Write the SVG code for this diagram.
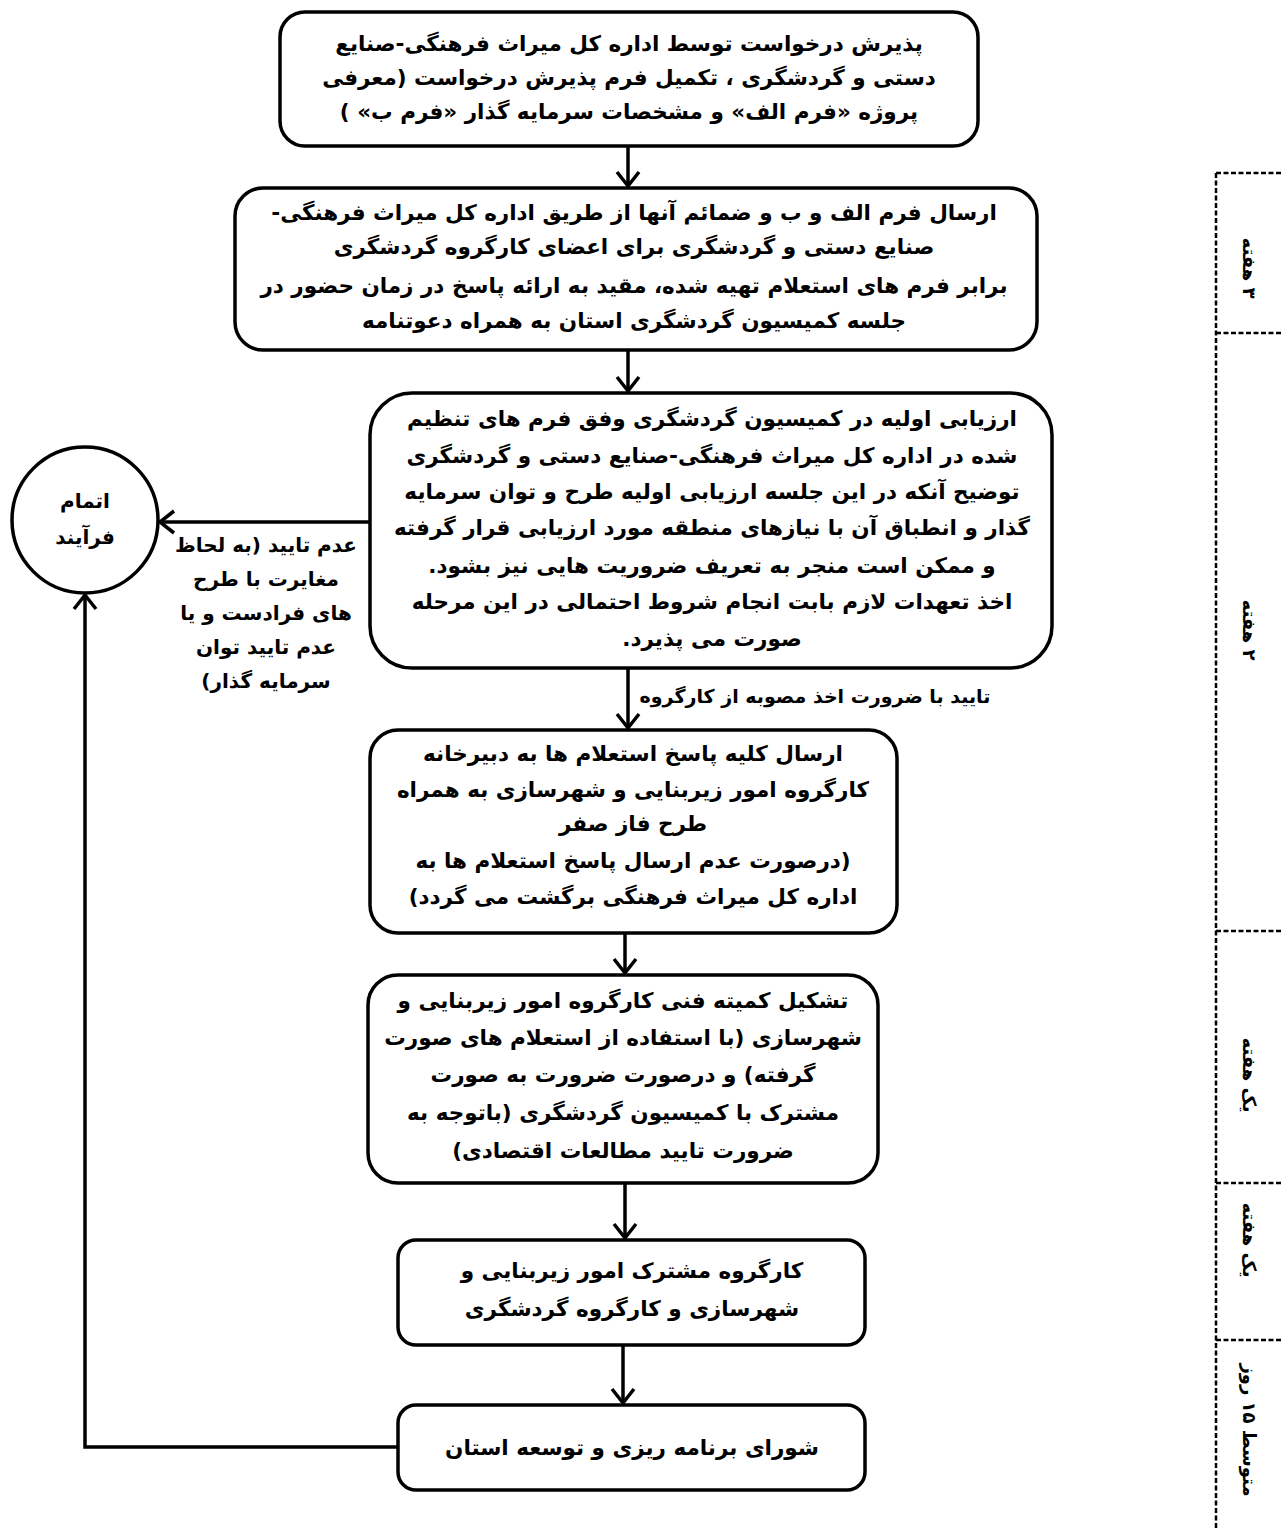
<svg xmlns="http://www.w3.org/2000/svg" width="1283" height="1529" viewBox="0 0 1283 1529">
<style>
.box{fill:#fff;stroke:#000;stroke-width:3.5}
.t{font-family:'DejaVu Sans',sans-serif;font-size:21.5px;font-weight:bold;fill:#000;text-anchor:middle;direction:rtl}
.lbl{font-family:'DejaVu Sans',sans-serif;font-size:19px;font-weight:bold;fill:#000;text-anchor:middle;direction:rtl}
.side{font-family:'DejaVu Sans',sans-serif;font-size:20px;font-weight:bold;fill:#000;text-anchor:middle;direction:rtl}
.tl{font-family:'DejaVu Sans',sans-serif;font-size:18px;font-weight:bold;fill:#000;text-anchor:middle;direction:rtl}
.c{fill:none;stroke:#000;stroke-width:3.5}
.dash{fill:none;stroke:#000;stroke-width:2.5;stroke-dasharray:5 2.5}
</style>
<defs>
<marker id="arr" markerUnits="userSpaceOnUse" markerWidth="30" markerHeight="30" refX="0" refY="0" viewBox="-16 -15 20 30" orient="auto" overflow="visible">
<path d="M-14,-11 L0,0 L-14,11" fill="none" stroke="#000" stroke-width="3.5"/>
</marker>
</defs>
<rect width="1283" height="1529" fill="#fff"/>

<g id="connectors">
<line class="c" x1="628" y1="146" x2="628" y2="186" marker-end="url(#arr)"/>
<line class="c" x1="628" y1="350" x2="628" y2="391" marker-end="url(#arr)"/>
<line class="c" x1="628" y1="668" x2="628" y2="728" marker-end="url(#arr)"/>
<line class="c" x1="625" y1="933" x2="625" y2="973" marker-end="url(#arr)"/>
<line class="c" x1="625" y1="1183" x2="625" y2="1238" marker-end="url(#arr)"/>
<line class="c" x1="623" y1="1345" x2="623" y2="1403" marker-end="url(#arr)"/>
<line class="c" x1="370" y1="522" x2="160" y2="522" marker-end="url(#arr)"/>
<polyline class="c" points="398,1447 85,1447 85,595" marker-end="url(#arr)"/>
<text class="lbl" x="815" y="703">تایید با ضرورت اخذ مصوبه از کارگروه</text>
<text class="side" x="266" y="552">عدم تایید (به لحاظ</text>
<text class="side" x="266" y="586">مغایرت با طرح</text>
<text class="side" x="266" y="620">های فرادست و یا</text>
<text class="side" x="266" y="654">عدم تایید توان</text>
<text class="side" x="266" y="688">سرمایه گذار)</text>
</g>

<g id="end">
<circle cx="85" cy="520" r="73" fill="#fff" stroke="#000" stroke-width="3.5"/>
<text class="side" x="85" y="508">اتمام</text>
<text class="side" x="85" y="544">فرآیند</text>
</g>

<g id="n1">
<rect class="box" x="280" y="12" width="698" height="134" rx="25"/>
<text class="t" x="629" y="51">پذیرش درخواست توسط اداره کل میراث فرهنگی-صنایع</text>
<text class="t" x="629" y="85">دستی و گردشگری ، تکمیل فرم پذیرش درخواست (معرفی</text>
<text class="t" x="629" y="119">پروژه «فرم الف» و مشخصات سرمایه گذار «فرم ب» )</text>
</g>

<g id="n2">
<rect class="box" x="235" y="188" width="802" height="162" rx="28"/>
<text class="t" x="634" y="220">ارسال فرم الف و ب و ضمائم آنها از طریق اداره کل میراث فرهنگی-</text>
<text class="t" x="634" y="254">صنایع دستی و گردشگری برای اعضای کارگروه گردشگری</text>
<text class="t" x="634" y="293">برابر فرم های استعلام تهیه شده، مقید به ارائه پاسخ در زمان حضور در</text>
<text class="t" x="634" y="328">جلسه کمیسیون گردشگری استان به همراه دعوتنامه</text>
</g>

<g id="n3">
<rect class="box" x="370" y="393" width="682" height="275" rx="42"/>
<text class="t" x="712" y="426">ارزیابی اولیه در کمیسیون گردشگری وفق فرم های تنظیم</text>
<text class="t" x="712" y="463">شده در اداره کل میراث فرهنگی-صنایع دستی و گردشگری</text>
<text class="t" x="712" y="499">توضیح آنکه در این جلسه ارزیابی اولیه طرح و توان سرمایه</text>
<text class="t" x="712" y="535">گذار و انطباق آن با نیازهای منطقه مورد ارزیابی قرار گرفته</text>
<text class="t" x="712" y="573">و ممکن است منجر به تعریف ضروریت هایی نیز بشود.</text>
<text class="t" x="712" y="609">اخذ تعهدات لازم بابت انجام شروط احتمالی در این مرحله</text>
<text class="t" x="712" y="646">صورت می پذیرد.</text>
</g>

<g id="n4">
<rect class="box" x="370" y="730" width="527" height="203" rx="28"/>
<text class="t" x="633" y="761">ارسال کلیه پاسخ استعلام ها به دبیرخانه</text>
<text class="t" x="633" y="797">کارگروه امور زیربنایی و شهرسازی به همراه</text>
<text class="t" x="633" y="831">طرح فاز صفر</text>
<text class="t" x="633" y="868">(درصورت عدم ارسال پاسخ استعلام ها به</text>
<text class="t" x="633" y="904">اداره کل میراث فرهنگی برگشت می گردد)</text>
</g>

<g id="n5">
<rect class="box" x="368" y="975" width="510" height="208" rx="30"/>
<text class="t" x="623" y="1008">تشکیل کمیته فنی کارگروه امور زیربنایی و</text>
<text class="t" x="623" y="1045">شهرسازی (با استفاده از استعلام های صورت</text>
<text class="t" x="623" y="1082">گرفته) و درصورت ضرورت به صورت</text>
<text class="t" x="623" y="1120">مشترک با کمیسیون گردشگری (باتوجه به</text>
<text class="t" x="623" y="1158">ضرورت تایید مطالعات اقتصادی)</text>
</g>

<g id="n6">
<rect class="box" x="398" y="1240" width="467" height="105" rx="18"/>
<text class="t" x="632" y="1278">کارگروه مشترک امور زیربنایی و</text>
<text class="t" x="632" y="1316">شهرسازی و کارگروه گردشگری</text>
</g>

<g id="n7">
<rect class="box" x="398" y="1405" width="467" height="85" rx="18"/>
<text class="t" x="632" y="1455">شورای برنامه ریزی و توسعه استان</text>
</g>

<g id="timeline">
<line class="dash" x1="1216" y1="173" x2="1216" y2="1529"/>
<line class="dash" x1="1216" y1="173" x2="1283" y2="173"/>
<line class="dash" x1="1216" y1="333" x2="1283" y2="333"/>
<line class="dash" x1="1216" y1="931" x2="1283" y2="931"/>
<line class="dash" x1="1216" y1="1183" x2="1283" y2="1183"/>
<line class="dash" x1="1216" y1="1340" x2="1283" y2="1340"/>
<text class="tl" transform="translate(1243,268) rotate(90)">۳ هفته</text>
<text class="tl" transform="translate(1243,630) rotate(90)">۲ هفته</text>
<text class="tl" transform="translate(1243,1075) rotate(90)">یک هفته</text>
<text class="tl" transform="translate(1243,1240) rotate(90)">یک هفته</text>
<text class="tl" transform="translate(1243,1430) rotate(90)">متوسط ۱۵ روز</text>
</g>
</svg>
